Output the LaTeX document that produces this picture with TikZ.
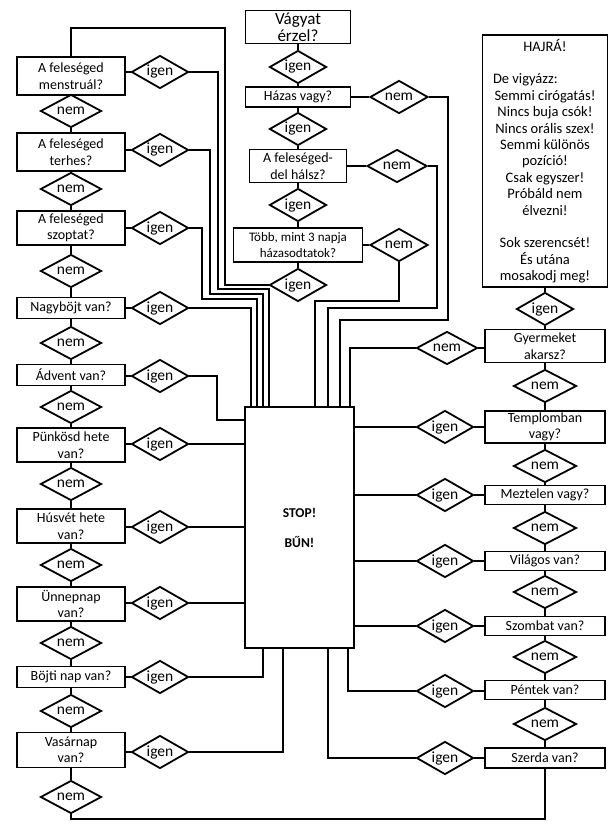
\documentclass[tikz,border=0pt]{standalone}
\usepackage{fontspec}
\setmainfont{Carlito}
\usetikzlibrary{shapes.geometric, positioning}

\begin{document}
\begin{tikzpicture}[
    x=1pt, y=-1pt,
    block/.style={rectangle, draw, line width=1.8pt, inner sep=0pt, align=center, font=\fontsize{14}{16.5}\selectfont},
    qbox/.style={block, minimum width=108pt, minimum height=#1},
    qbox/.default=21pt,
    rbox/.style={block, minimum width=120pt, minimum height=#1},
    rbox/.default=19pt,
    yesdia/.style={diamond, draw, line width=1.8pt, inner sep=0pt, shape aspect=1.7, minimum width=57pt, minimum height=33pt, font=\fontsize{15.5}{15.5}\selectfont},
    nodia/.style={yesdia, minimum width=61pt},
    line/.style={draw, line width=1.8pt}
]
\useasboundingbox (0,0) rectangle (614,837);

% top chain
\node [block, minimum width=105pt, minimum height=33pt, font=\fontsize{17}{17}\selectfont] (vagy) at (298,27) {Vágyat\\érzel?};
\node [yesdia] (vagyY) at (298,67) {igen};
\node [block, minimum width=105pt, minimum height=20pt] (hazas) at (298,97) {Házas vagy?};
\node [nodia, minimum width=58pt] (hazasN) at (399,97) {nem};
\node [yesdia] (hazasY) at (298,129) {igen};
\node [block, minimum width=97pt, minimum height=33pt] (halsz) at (298,166) {A feleséged-\\del hálsz?};
\node [nodia, minimum width=60pt] (halszN) at (397,166) {nem};
\node [yesdia] (halszY) at (298,205) {igen};
\node [block, minimum width=129pt, minimum height=34pt, font=\fontsize{13}{16}\selectfont] (tobb) at (298,245) {Több, mint 3 napja\\házasodtatok?};
\node [nodia, minimum width=58pt] (tobbN) at (399,245) {nem};
\node [yesdia] (tobbY) at (298,285) {igen};

% left column
\node [qbox=38pt] (mens) at (71,76) {A feleséged\\menstruál?};
\node [yesdia] (mensY) at (160,72) {igen};
\node [nodia] (mensN) at (71,111) {nem};
\node [qbox=38pt] (terh) at (71,152) {A feleséged\\terhes?};
\node [yesdia] (terhY) at (160,150) {igen};
\node [nodia] (terhN) at (71,189) {nem};
\node [qbox=34pt] (szopt) at (71,228) {A feleséged\\szoptat?};
\node [yesdia] (szoptY) at (160,228) {igen};
\node [nodia] (szoptN) at (71,271) {nem};
\node [qbox] (nagyb) at (71,308) {Nagyböjt van?};
\node [yesdia] (nagybY) at (160,308) {igen};
\node [nodia] (nagybN) at (71,343) {nem};
\node [qbox] (adv) at (71,375) {Ádvent van?};
\node [yesdia] (advY) at (160,376) {igen};
\node [nodia] (advN) at (71,407) {nem};
\node [qbox=34pt] (punk) at (71,445) {Pünkösd hete\\van?};
\node [yesdia] (punkY) at (160,444) {igen};
\node [nodia] (punkN) at (71,484) {nem};
\node [qbox=34pt] (husv) at (71,526) {Húsvét hete\\van?};
\node [yesdia] (husvY) at (160,527) {igen};
\node [nodia] (husvN) at (71,565) {nem};
\node [qbox=34pt] (unnep) at (71,604) {Ünnepnap\\van?};
\node [yesdia] (unnepY) at (160,603) {igen};
\node [nodia] (unnepN) at (71,643) {nem};
\node [qbox] (bojt) at (71,677) {Böjti nap van?};
\node [yesdia] (bojtY) at (160,677) {igen};
\node [nodia] (bojtN) at (71,711) {nem};
\node [qbox=35pt] (vasar) at (71,750) {Vasárnap\\van?};
\node [yesdia] (vasarY) at (160,752) {igen};
\node [nodia] (vasarN) at (71,797) {nem};
\coordinate (bot) at (0,819);

% stop
\node [block, minimum width=109pt, minimum height=241pt, font=\fontsize{13.5}{16}\selectfont\bfseries] (stop) at (299.5,527.5) {STOP!\\[14pt]BŰN!};

% right column
\node [block, minimum width=125pt, minimum height=252pt, font=\fontsize{14.5}{16.4}\selectfont] (hajra) at (545,161) {HAJRÁ!\\\mbox{}\\\makebox[104pt][l]{De vigyázz:}\\Semmi cirógatás!\\Nincs buja csók!\\Nincs orális szex!\\Semmi különös\\pozíció!\\Csak egyszer!\\Próbáld nem\\élvezni!\\\mbox{}\\Sok szerencsét!\\És utána\\mosakodj meg!};
\node [yesdia] (hajraY) at (545,309) {igen};
\node [rbox=33pt] (gyerm) at (545,346) {Gyermeket\\akarsz?};
\node [nodia] (gyermN) at (447,348) {nem};
\node [nodia, minimum width=63pt] (templN) at (545,386) {nem};
\node [rbox=32pt] (templ) at (545,427) {Templomban\\vagy?};
\node [yesdia] (templY) at (445,427) {igen};
\node [nodia, minimum width=63pt] (meztN) at (545,466) {nem};
\node [rbox] (mezt) at (545,495) {Meztelen vagy?};
\node [yesdia] (meztY) at (445,495) {igen};
\node [nodia, minimum width=63pt] (vilagN) at (545,528) {nem};
\node [rbox] (vilag) at (545,561) {Világos van?};
\node [yesdia] (vilagY) at (445,561) {igen};
\node [nodia, minimum width=63pt] (szombN) at (545,592) {nem};
\node [rbox] (szomb) at (545,626) {Szombat van?};
\node [yesdia] (szombY) at (445,626) {igen};
\node [nodia, minimum width=63pt] (pentN) at (545,657) {nem};
\node [rbox] (pent) at (545,690) {Péntek van?};
\node [yesdia] (pentY) at (445,691) {igen};
\node [nodia, minimum width=63pt] (szerdN) at (545,724) {nem};
\node [rbox=20pt] (szerd) at (545,758) {Szerda van?};
\node [yesdia] (szerdY) at (445,758) {igen};

% top chain links
\path [line] (vagy) -- (vagyY);
\path [line] (vagyY) -- (hazas);
\path [line] (hazas) -- (hazasY);
\path [line] (hazasY) -- (halsz);
\path [line] (halsz) -- (halszY);
\path [line] (halszY) -- (tobb);
\path [line] (tobb) -- (tobbY);
\path [line] (hazas) -- (hazasN);
\path [line] (halsz) -- (halszN);
\path [line] (tobb) -- (tobbN);
\path [line] (tobbY.west) -| (225,28) -| (mens.north);

% top nem wires
\path [line] (hazasN.east) -| (448,320) -| (340,0 |- stop.north);
\path [line] (halszN.east) -| (437,308) -| (328,0 |- stop.north);
\path [line] (tobbN.south) |- (315,301) -- (315,0 |- stop.north);

% left chain links
\path [line] (mens) -- (mensN);
\path [line] (mensN) -- (terh);
\path [line] (terh) -- (terhN);
\path [line] (terhN) -- (szopt);
\path [line] (szopt) -- (szoptN);
\path [line] (szoptN) -- (nagyb);
\path [line] (nagyb) -- (nagybN);
\path [line] (nagybN) -- (adv);
\path [line] (adv) -- (advN);
\path [line] (advN) -- (punk);
\path [line] (punk) -- (punkN);
\path [line] (punkN) -- (husv);
\path [line] (husv) -- (husvN);
\path [line] (husvN) -- (unnep);
\path [line] (unnep) -- (unnepN);
\path [line] (unnepN) -- (bojt);
\path [line] (bojt) -- (bojtN);
\path [line] (bojtN) -- (vasar);
\path [line] (vasar) -- (vasarN);
\path [line] (vasarN.south) -- (vasarN.south |- bot) -| (szerd.south);

% left igen
\path [line] (mens.east |- mensY.west) -- (mensY.west);
\path [line] (terh.east |- terhY.west) -- (terhY.west);
\path [line] (szopt.east |- szoptY.west) -- (szoptY.west);
\path [line] (nagyb.east |- nagybY.west) -- (nagybY.west);
\path [line] (adv.east |- advY.west) -- (advY.west);
\path [line] (punk.east |- punkY.west) -- (punkY.west);
\path [line] (husv.east |- husvY.west) -- (husvY.west);
\path [line] (unnep.east |- unnepY.west) -- (unnepY.west);
\path [line] (bojt.east |- bojtY.west) -- (bojtY.west);
\path [line] (vasar.east |- vasarY.west) -- (vasarY.west);

\path [line] (mensY.east) -| (218,289) -| (269,0 |- stop.north);
\path [line] (terhY.east) -| (210,294) -| (263,0 |- stop.north);
\path [line] (szoptY.east) -| (202,299) -| (257,0 |- stop.north);
\path [line] (nagybY.east) -| (251,0 |- stop.north);
\path [line] (advY.east) -| (217,420) -- (217,420 -| stop.west);
\path [line] (punkY.east) -- (punkY.east -| stop.west);
\path [line] (husvY.east) -- (husvY.east -| stop.west);
\path [line] (unnepY.east) -- (unnepY.east -| stop.west);
\path [line] (bojtY.east) -| (263,0 |- stop.south);
\path [line] (vasarY.east) -| (283,0 |- stop.south);

% right chain links
\path [line] (szerd) -- (szerdN);
\path [line] (szerdN) -- (pent);
\path [line] (pent) -- (pentN);
\path [line] (pentN) -- (szomb);
\path [line] (szomb) -- (szombN);
\path [line] (szombN) -- (vilag);
\path [line] (vilag) -- (vilagN);
\path [line] (vilagN) -- (mezt);
\path [line] (mezt) -- (meztN);
\path [line] (meztN) -- (templ);
\path [line] (templ) -- (templN);
\path [line] (templN) -- (gyerm);
\path [line] (gyerm) -- (hajraY);
\path [line] (hajraY) -- (hajra);
\path [line] (gyermN.east) -- (gyermN.east -| gyerm.west);
\path [line] (gyermN.west) -| (350,0 |- stop.north);

% right igen
\path [line] (templY.east) -- (templY.east -| templ.west);
\path [line] (meztY.east) -- (meztY.east -| mezt.west);
\path [line] (vilagY.east) -- (vilagY.east -| vilag.west);
\path [line] (szombY.east) -- (szombY.east -| szomb.west);
\path [line] (pentY.east) -- (pentY.east -| pent.west);
\path [line] (szerdY.east) -- (szerdY.east -| szerd.west);
\path [line] (templY.west) -- (templY.west -| stop.east);
\path [line] (meztY.west) -- (meztY.west -| stop.east);
\path [line] (vilagY.west) -- (vilagY.west -| stop.east);
\path [line] (szombY.west) -- (szombY.west -| stop.east);
\path [line] (pentY.west) -| (348,0 |- stop.south);
\path [line] (szerdY.west) -| (328,0 |- stop.south);

\end{tikzpicture}
\end{document}
